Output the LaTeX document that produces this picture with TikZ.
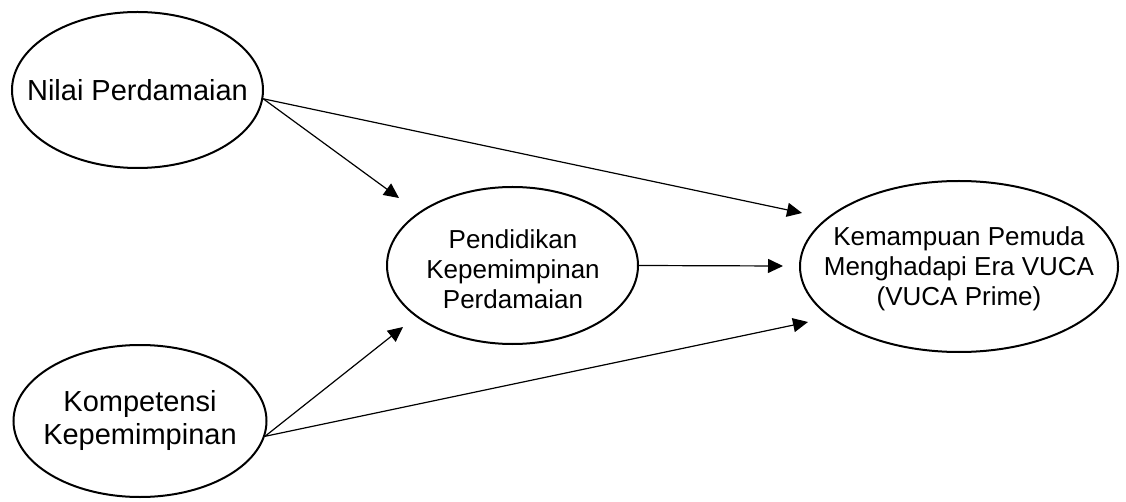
\documentclass[tikz,border=0pt]{standalone}
\usepackage{fontspec}
\setmainfont{Liberation Sans}
\usetikzlibrary{shapes.geometric,arrows.meta}
\begin{document}
\begin{tikzpicture}[x=1pt,y=-1pt,
  ell/.style={draw, line width=2pt, ellipse, inner sep=0pt},
  bigtext/.style={font=\fontsize{29}{33}\selectfont, align=center, inner sep=0pt},
  smalltext/.style={font=\fontsize{26}{30}\selectfont, align=center, inner sep=0pt},
  arr/.style={line width=1.2pt, -{Triangle[length=15pt,width=14pt]}}]
\useasboundingbox (0,0) rectangle (1126,502);
% ellipses
\node[ell, minimum width=251pt, minimum height=156pt] (nilai) at (137.5,90) {};
\node[bigtext] (nilaiT) at (nilai.center) {Nilai Perdamaian};
\node[ell, minimum width=253pt, minimum height=152pt] (komp) at (140,421) {};
\node[bigtext] (kompT) at (komp.center) {Kompetensi\\Kepemimpinan};
\node[ell, minimum width=251pt, minimum height=157pt] (pend) at (512.5,265.5) {};
\node[smalltext] (pendT) at (513,269) {Pendidikan\\Kepemimpinan\\Perdamaian};
\node[ell, minimum width=318pt, minimum height=171pt] (vuca) at (959,266.5) {};
\node[smalltext] (vucaT) at (959,269) {Kemampuan Pemuda\\Menghadapi Era VUCA\\(VUCA Prime)};
% arrow tips
\coordinate (t1) at (399,198);
\coordinate (t2) at (802,213);
\coordinate (t3) at (783,266);
\coordinate (t4) at (403,327);
\coordinate (t5) at (808,322);
% connectors
\draw[arr] (nilai.-4) -- (t1);
\draw[arr] (nilai.-4) -- (t2);
\draw[arr] (pend.east) -- (t3);
\draw[arr] (komp.-7) -- (t4);
\draw[arr] (komp.-7) -- (t5);
\end{tikzpicture}
\end{document}
